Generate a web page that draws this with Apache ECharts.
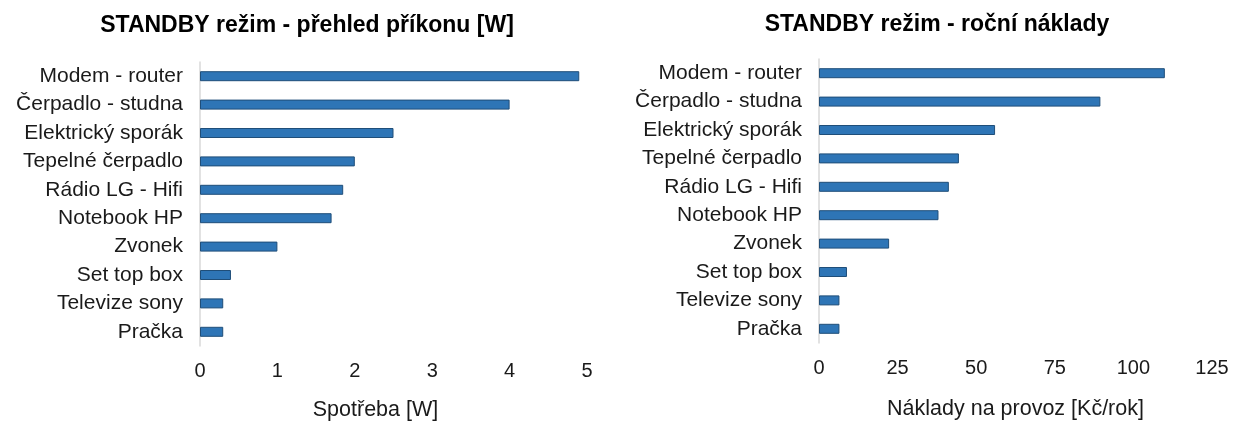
<!DOCTYPE html>
<html>
<head>
<meta charset="utf-8">
<script src="https://cdn.jsdelivr.net/npm/echarts@6/dist/echarts.min.js"></script>
<style>
  html, body { margin: 0; padding: 0; background: #fff; }
  #chart { width: 1233px; height: 421px; }
</style>
</head>
<body>
<div id="chart"></div>
<script>
// spotřebiče v pořadí odshora
const devices = ['Modem - router', 'Čerpadlo - studna', 'Elektrický sporák', 'Tepelné čerpadlo',
  'Rádio LG - Hifi', 'Notebook HP', 'Zvonek', 'Set top box', 'Televize sony', 'Pračka']
// příkon ve standby [W]
const power = [4.9, 4.0, 2.5, 2.0, 1.85, 1.7, 1.0, 0.4, 0.3, 0.3]
// roční náklady [Kč/rok]
const costs = [110, 89.5, 56, 44.5, 41.3, 38, 22.3, 8.9, 6.5, 6.5]

const titles = ['STANDBY režim - přehled příkonu [W]', 'STANDBY režim - roční náklady']
const axisNames = ['Spotřeba [W]', 'Náklady na provoz [Kč/rok]']

const font = "'Liberation Sans', Arial, sans-serif"
const barColor = '#2e75b6'
const barBorder = '#1f4e79'

let chart = echarts.init(document.getElementById('chart'))

let catAxis = (idx) => ({
  type: 'category',
  gridIndex: idx,
  data: devices,
  inverse: true,
  axisLine: { lineStyle: { color: '#d9d9d9', width: 1.5 } },
  axisTick: { show: false },
  axisLabel: { color: '#1a1a1a', fontSize: 21, fontFamily: font, margin: 17 }
})

let valAxis = (idx, max, interval, gap, pad) => ({
  type: 'value',
  gridIndex: idx,
  min: 0,
  max: max,
  interval: interval,
  name: axisNames[idx],
  nameLocation: 'middle',
  nameGap: gap,
  nameTextStyle: { color: '#1a1a1a', fontSize: 21.5, fontFamily: font, padding: pad },
  axisLine: { show: false },
  axisTick: { show: false },
  splitLine: { show: false },
  axisLabel: { color: '#1a1a1a', fontSize: 20, fontFamily: font, margin: 15 }
})

let barSeries = (idx, data) => ({
  type: 'bar',
  xAxisIndex: idx,
  yAxisIndex: idx,
  data: data,
  barWidth: 10,
  itemStyle: { color: barColor, borderColor: barBorder, borderWidth: 1 },
  silent: true
})

let option = {
  animation: false,
  backgroundColor: '#fff',
  title: [
    {
      text: titles[0], left: 307, top: 14, textAlign: 'center', padding: 0,
      textStyle: { color: '#000', fontSize: 23, fontWeight: 'bold', fontFamily: font }
    },
    {
      text: titles[1], left: 937, top: 13, textAlign: 'center', padding: 0,
      textStyle: { color: '#000', fontSize: 23, fontWeight: 'bold', fontFamily: font }
    }
  ],
  grid: [
    { left: 200, top: 62, width: 387, height: 284, outerBoundsMode: 'none' },
    { left: 819, top: 59, width: 393, height: 284, outerBoundsMode: 'none' }
  ],
  xAxis: [
    valAxis(0, 5, 1, 53, [0, 36, 0, 0]),
    valAxis(1, 125, 25, 55, 0)
  ],
  yAxis: [catAxis(0), catAxis(1)],
  series: [barSeries(0, power), barSeries(1, costs)]
}

chart.setOption(option)
</script>
</body>
</html>
